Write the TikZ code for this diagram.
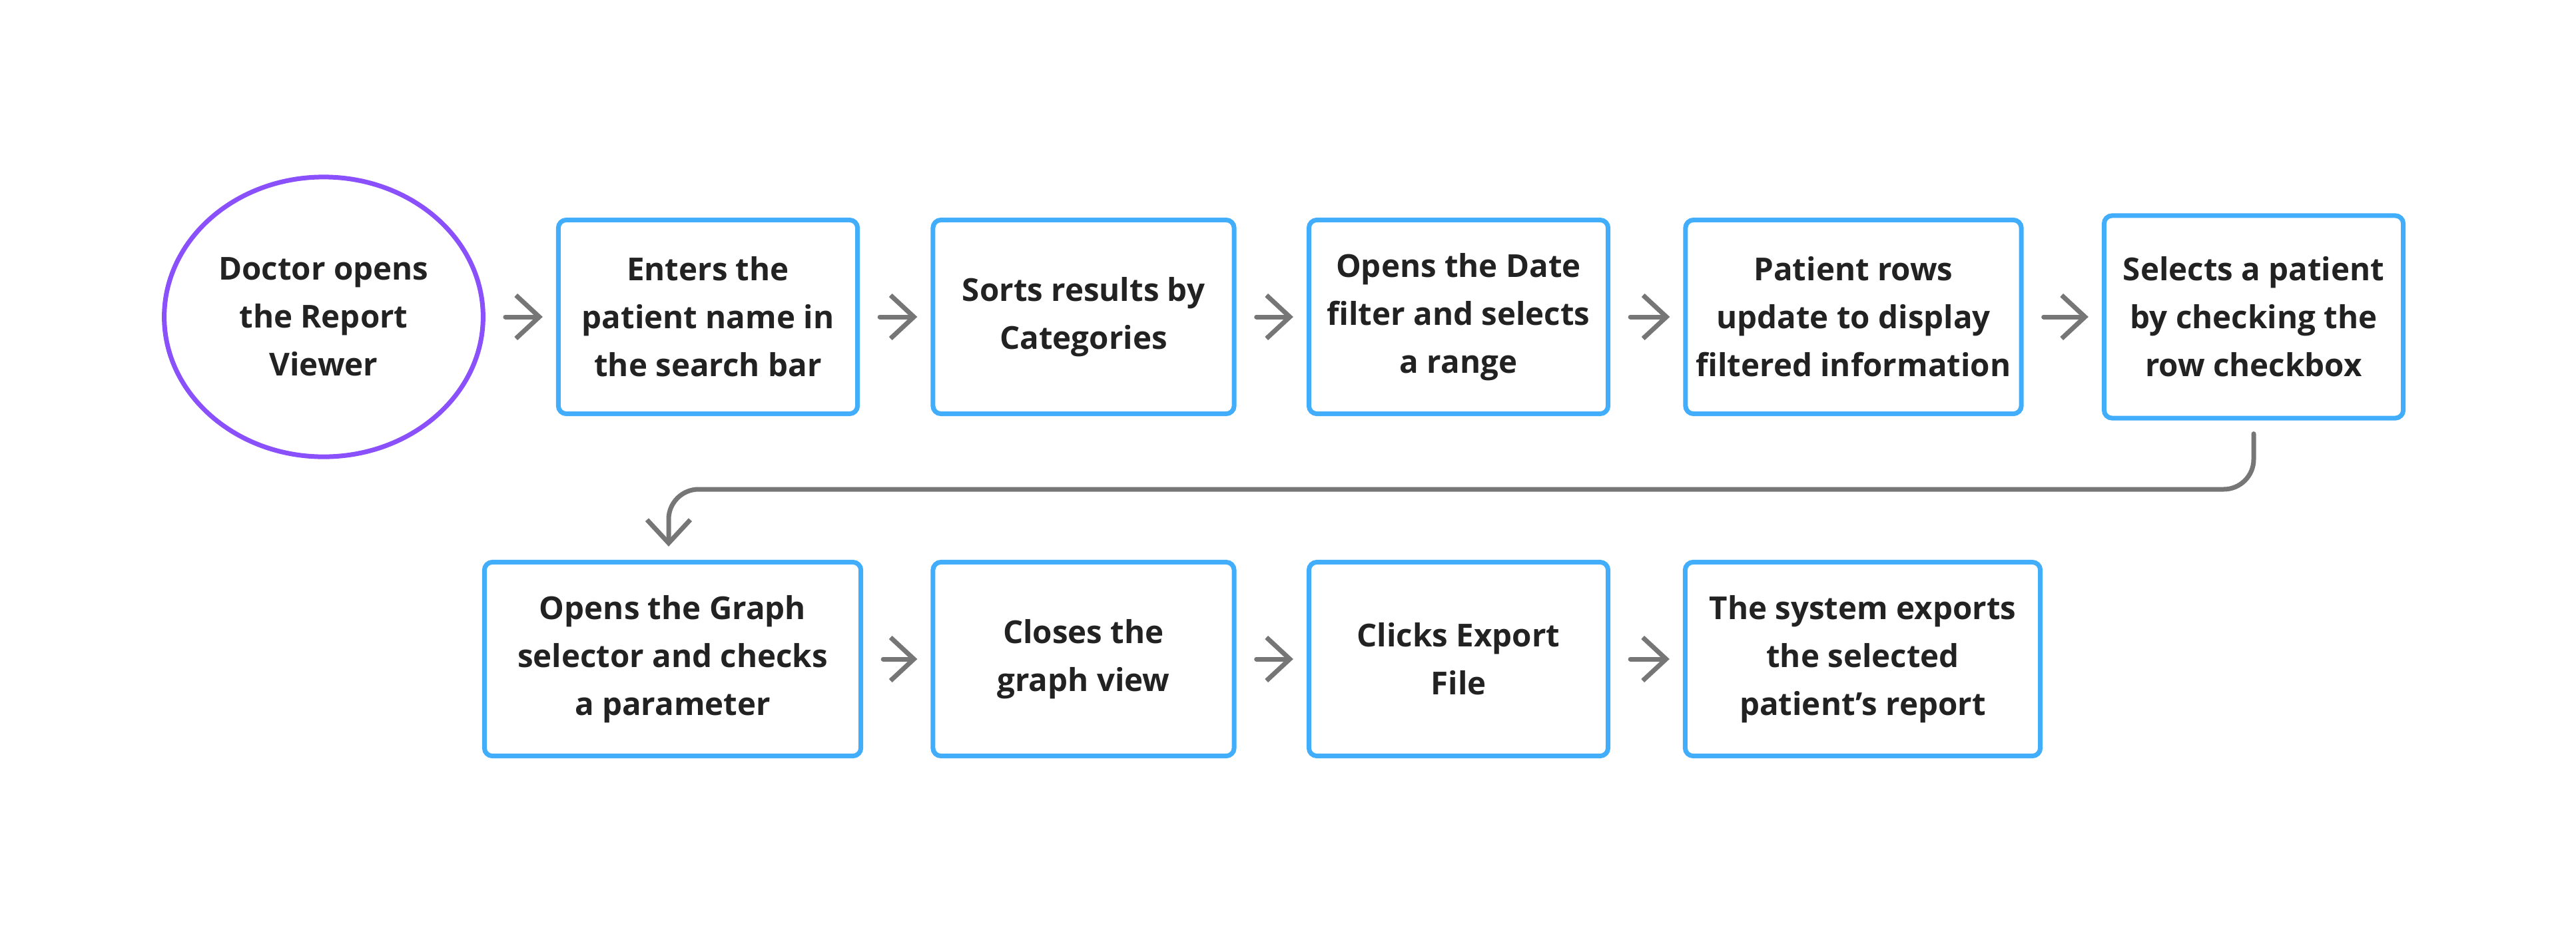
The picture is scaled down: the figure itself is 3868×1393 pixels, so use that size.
\documentclass[tikz,border=0pt]{standalone}
\usepackage{fontspec}
\setmainfont{Open Sans}
\usetikzlibrary{arrows.meta,shapes.geometric}
\definecolor{boxb}{HTML}{42AEFB}
\definecolor{purp}{HTML}{8A50FC}
\definecolor{arr}{HTML}{767676}
\definecolor{txt}{HTML}{222222}
\begin{document}
\begin{tikzpicture}[x=0.01cm,y=-0.01cm,
  box/.style={draw=boxb,line width=0.07cm,rounded corners=0.12cm,minimum height=2.91cm,align=center,font=\fontsize{13.5}{20.5}\selectfont\bfseries,text=txt,fill=white},
  con/.style={draw=arr,line width=0.07cm,-{Straight Barb[length=0.35cm,width=0.65cm,line width=0.07cm]},shorten <=0.3cm,shorten >=0.2cm,line cap=round}]
\useasboundingbox (0,0) rectangle (3868,1393);
\node[ellipse,draw=purp,line width=0.07cm,minimum width=4.54cm,minimum height=4.2cm,align=center,font=\fontsize{13.5}{20.5}\selectfont\bfseries,text=txt] (c) at (486,476) {Doctor opens\\the Report\\Viewer};
\node[box,minimum width=4.49cm] (b1) at (1063,476) {Enters the\\patient name in\\the search bar};
\node[box,minimum width=4.52cm] (b2) at (1627,476) {Sorts results by\\Categories};
\node[box,minimum width=4.49cm] (b3) at (2190,476) {Opens the Date\\filter and selects\\a range};
\node[box,minimum width=5.04cm] (b4) at (2783,476) {Patient rows\\update to display\\filtered information};
\node[box,minimum width=4.49cm,minimum height=3.04cm] (b5) at (3384,476) {Selects a patient\\by checking the\\row checkbox};
\node[box,minimum width=5.65cm] (b6) at (1010,990) {Opens the Graph\\selector and checks\\a parameter};
\node[box,minimum width=4.52cm] (b7) at (1627,990) {Closes the\\graph view};
\node[box,minimum width=4.49cm] (b8) at (2190,990) {Clicks Export\\File};
\node[box,minimum width=5.33cm] (b9) at (2797,990) {The system exports\\the selected\\patient’s report};
\draw[con] (c) -- (b1);
\draw[con] (b1) -- (b2);
\draw[con] (b2) -- (b3);
\draw[con] (b3) -- (b4);
\draw[con] (b4) -- (b5);
\draw[con] (b6) -- (b7);
\draw[con] (b7) -- (b8);
\draw[con] (b8) -- (b9);
\coordinate (t1) at (3384,735);
\coordinate (t2) at (1004,735);
\draw[con,rounded corners=0.45cm,shorten <=0.2cm] (b5.south) -- (t1) -- (t2) -- (b6.north -| t2);
\end{tikzpicture}
\end{document}
